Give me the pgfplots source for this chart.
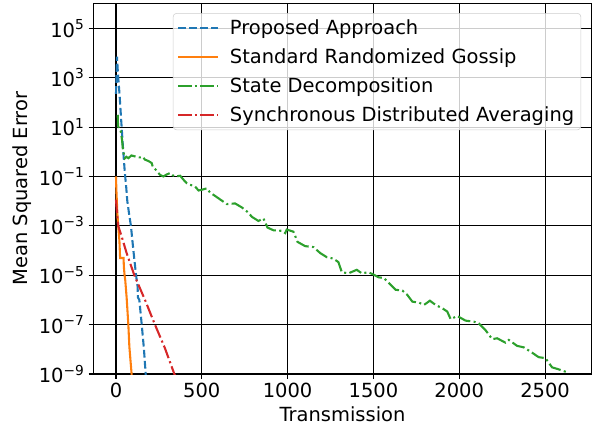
\documentclass[border=0pt]{standalone}
\usepackage{fontspec}
\setmainfont{DejaVu Sans}
\usepackage{pgfplots}
\pgfplotsset{compat=1.18}

\definecolor{tabblue}{HTML}{1F77B4}
\definecolor{taborange}{HTML}{FF7F0E}
\definecolor{tabgreen}{HTML}{2CA02C}
\definecolor{tabred}{HTML}{D62728}

% 10^n written in the text font
\newcommand{\tp}[1]{10\raisebox{5.8pt}{\fontsize{10.3}{10}\selectfont #1}}

\begin{document}
\begin{tikzpicture}[font=\fontsize{14.6}{17}\selectfont]
\useasboundingbox (-70pt,-41.25pt) rectangle (380pt,280.5pt);
\begin{axis}[
    scale only axis,
    width=373.8pt, height=278pt,
    ymode=log,
    xmin=-132, xmax=2772,
    ymin=1e-9, ymax=1.03e6,
    xtick={0,500,1000,1500,2000,2500},
    xticklabels={0,500,1000,1500,2000,2500},
    ytick={1e-9,1e-7,1e-5,1e-3,1e-1,1e1,1e3,1e5},
    yticklabels={\tp{−9},\tp{−7},\tp{−5},\tp{−3},\tp{−1},\tp{1},\tp{3},\tp{5}},
    minor y tick num=0,
    tick pos=left,
    tick align=outside,
    major tick length=3.6pt,
    every tick/.style={black, line width=0.8pt},
    axis line style={line width=0.8pt},
    grid=major,
    major grid style={black, line width=0.8pt},
    xlabel={Transmission},
    ylabel={Mean Squared Error},
    every axis x label/.style={at={(axis description cs:0.5,0)}, anchor=center, yshift=-30pt},
    every axis y label/.style={at={(axis description cs:0,0.5)}, rotate=90, anchor=center, yshift=53.5pt},
    legend cell align=left,
    legend image code/.code={\draw[#1] (0pt,0pt) -- (30pt,0pt);},
    legend style={at={(1,1)}, anchor=north east, xshift=-8pt, yshift=-7.3pt,
        draw=black!20, rounded corners=2.5pt, fill=white, fill opacity=0.8,
        text opacity=1, draw opacity=1, inner xsep=3pt, inner ysep=3pt,
        row sep=5pt, column sep=6pt, nodes={inner sep=2pt}},
]

\addplot[tabblue, line width=1.56pt, dash pattern=on 5.8pt off 2.5pt]
    coordinates {
    (0,2.2e2)(6,7.1e3)(12,1.23e3)(21,2.0e2)(31,1.6e1)(41,1.4)(51,1.6e-1)
    (60,3.4e-2)(66,1e-2)(76,3.2e-3)(87,1e-3)(101,1.07e-4)(117,1e-5)
    (126,3.5e-6)(128,1.26e-6)(136,1e-6)(150,1e-7)(163,1e-8)(173,1e-9)(180,2.5e-10)
    };
\addplot[taborange, line width=1.56pt]
    coordinates {
    (0,1e-1)(2,3.2e-2)(5,1e-2)(8,3.2e-3)(13,1e-3)(20,2.5e-4)(24,5e-5)
    (44,5e-5)(46,2.2e-5)(50,1e-5)(54,6.3e-6)(62,1.26e-6)(72,1e-7)
    (78,1.26e-8)(91,1e-9)(95,4e-10)
    };
\addplot[tabgreen, line width=1.56pt, dash pattern=on 10pt off 2.5pt on 1.56pt off 2.5pt]
    coordinates {
    (10,31.6)(12,11.2)(20,7.9)(27,7.1)(35,3.16)(41,1.12)(48,0.71)(52,0.55)
    (60,0.63)(72,0.55)(90,0.71)(111,0.65)(125,0.60)(140,0.59)(155,0.63)
    (169,0.48)(190,0.42)(208,0.35)(214,0.25)(235,0.178)(256,0.117)(276,0.1)
    (295,0.12)(315,0.138)(330,0.112)(344,0.1)(374,0.107)(397,0.069)(412,0.054)
    (432,0.046)(460,0.040)(481,0.027)(500,0.029)(529,0.033)(549,0.022)
    (578,0.0162)(617,0.0105)(646,0.0076)(694,0.0081)(733,0.0056)(772,0.0034)
    (791,0.00234)(830,0.00158)(859,0.0020)(883,8.5e-4)(918,6.6e-4)(966,6.3e-4)
    (986,5.1e-4)(995,7.1e-4)(1034,5.8e-4)(1058,2.24e-4)(1102,1.51e-4)
    (1151,1.38e-4)(1190,7.9e-5)(1228,5.4e-5)(1267,4.7e-5)(1296,3.4e-5)
    (1316,1.32e-5)(1355,1.2e-5)(1403,1.66e-5)(1432,1.2e-5)(1471,1.32e-5)
    (1500,1.07e-5)(1529,8.3e-6)(1562,7.6e-6)(1591,4.8e-6)(1630,2.57e-6)
    (1669,2.4e-6)(1698,1.58e-6)(1727,8.5e-7)(1765,7.8e-7)(1795,6.3e-7)
    (1829,9.3e-7)(1862,6.3e-7)(1901,4.6e-7)(1930,3.4e-7)(1950,1.66e-7)
    (1988,2.24e-7)(2037,1.45e-7)(2085,1.32e-7)(2114,1.12e-7)(2153,6.0e-8)
    (2192,2.57e-8)(2221,2.8e-8)(2269,1.86e-8)(2289,2.4e-8)(2337,1.38e-8)
    (2376,1.2e-8)(2415,8.1e-9)(2463,4.8e-9)(2502,4.4e-9)(2541,1.86e-9)
    (2579,1.55e-9)(2637,1.12e-9)
    };
\addplot[tabred, line width=1.56pt, dash pattern=on 10pt off 2.5pt on 1.56pt off 2.5pt]
    coordinates {
    (0,1.15e-2)(5,4e-3)(9,2e-3)(13,1e-3)(33,3.7e-4)(62,7.9e-5)(107,1e-5)
    (169,1e-6)(227,1e-7)(285,1.12e-8)(340,1e-9)(350,6.8e-10)
    };
\legend{Proposed Approach, Standard Randomized Gossip, State Decomposition, Synchronous Distributed Averaging}
\end{axis}
\end{tikzpicture}
\end{document}
